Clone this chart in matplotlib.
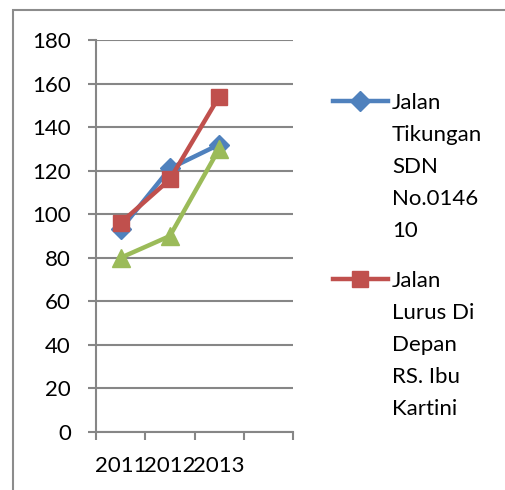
import matplotlib
matplotlib.use('Agg')
import matplotlib.pyplot as plt
from matplotlib.patches import Rectangle
from matplotlib.lines import Line2D

years = ['2011', '2012', '2013', '']
tikungan = [93, 121, 132]
lurus = [96, 116, 154]
ketiga = [80, 90, 130]
labels = [['Jalan', 'Tikungan', 'SDN', 'No.0146', '10'],
          ['Jalan', 'Lurus Di', 'Depan', 'RS. Ibu', 'Kartini']]

plt.rcParams['font.family'] = ['Lato', 'DejaVu Sans']

W, H = 505, 490
fig = plt.figure(figsize=(W / 100, H / 100), dpi=100)
ax = fig.add_axes([96 / W, 1 - 432 / H, (293 - 96) / W, (432 - 40) / H])

# outer chart border (runs off the picture at right and bottom)
fig.patches.append(Rectangle((13 / W, -0.1), 1.2, 1 - 10 / H + 0.1, transform=fig.transFigure,
                             fill=False, edgecolor='#8c8c8c', linewidth=1.5))

x = [i + 0.5 for i in range(3)]
grey = '#868686'
styles = [dict(color='#4F81BD', marker='D', ms=10),
          dict(color='#C0504D', marker='s', ms=12),
          dict(color='#9BBB59', marker='^', ms=13)]
for k, vals in enumerate([tikungan, lurus, ketiga]):
    ax.plot(x, vals, lw=3.2, zorder=3 + k, **styles[k])

ax.set_xlim(0, 4)
ax.set_ylim(0, 180)
ax.set_yticks(range(0, 181, 20))
ax.set_xticks([0, 1, 2, 3, 4])
ax.set_xticks(x + [3.5], minor=True)
ax.set_xticklabels([])
ax.set_xticklabels(years, minor=True)
ax.tick_params(axis='x', which='minor', length=0, pad=17, labelsize=16)
ax.tick_params(axis='x', which='major', length=6, width=1.5, color=grey)
ax.tick_params(axis='y', length=6, width=1.5, color=grey, pad=12, labelsize=16)
ax.yaxis.grid(True, color=grey, lw=1.5)
ax.set_axisbelow(True)
for s in ['top', 'right']:
    ax.spines[s].set_visible(False)
for s in ['left', 'bottom']:
    ax.spines[s].set_color(grey)
    ax.spines[s].set_linewidth(1.5)

# legend drawn by hand: only the first two series show, labels wrapped
for k, (y0, lines) in enumerate(zip([101, 279], labels)):
    fy = 1 - y0 / H
    fig.add_artist(Line2D([333 / W, 388 / W], [fy, fy], transform=fig.transFigure,
                          lw=3.2, markevery=[], **styles[k]))
    fig.add_artist(Line2D([360 / W], [fy], transform=fig.transFigure, ls='none', **styles[k]))
    for j, line in enumerate(lines):
        fig.text(392 / W, 1 - (y0 + 8 + 32 * j) / H, line, fontsize=16, va='baseline')

fig.savefig('out.png', dpi=100)
